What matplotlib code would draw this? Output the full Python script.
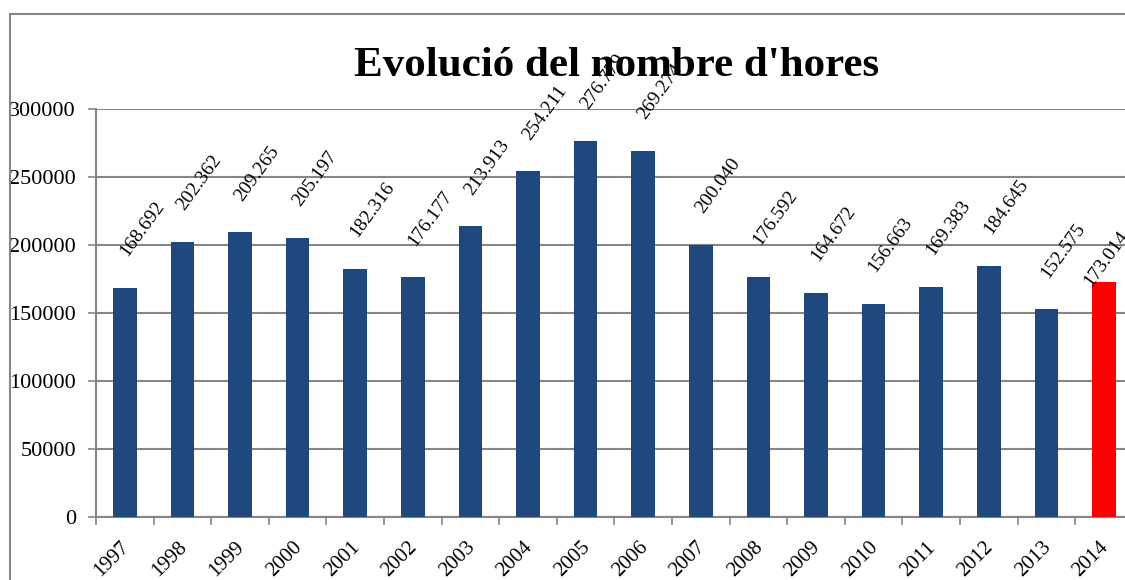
import matplotlib
matplotlib.use("Agg")
import matplotlib.pyplot as plt
from matplotlib.patches import Rectangle
from matplotlib.transforms import ScaledTranslation
import numpy as np

years = ["1997", "1998", "1999", "2000", "2001", "2002", "2003", "2004", "2005",
         "2006", "2007", "2008", "2009", "2010", "2011", "2012", "2013", "2014"]
hours = [168692, 202362, 209265, 205197, 182316, 176177, 213913, 254211, 276779,
         269274, 200040, 176592, 164672, 156663, 169383, 184645, 152575, 173014]
labels = ["168.692", "202.362", "209.265", "205.197", "182.316", "176.177", "213.913",
          "254.211", "276.779", "269.274", "200.040", "176.592", "164.672", "156.663",
          "169.383", "184.645", "152.575", "173.014"]
title = "Evolució del nombre d'hores"

plt.rcParams["font.family"] = ["Liberation Serif", "DejaVu Serif"]

W, H = 1125, 580
fig = plt.figure(figsize=(W / 100, H / 100), dpi=100)

# outer chart border (cropped on right and bottom)
fig.patches.append(Rectangle((10 / W, -0.1), 1.2, (H - 14) / H + 0.1,
                             transform=fig.transFigure, fill=False,
                             edgecolor="#868686", linewidth=1.5))

ax = fig.add_axes([96 / W, (H - 517) / H, 1036.8 / W, 408 / H])
x = np.arange(len(years))
colors = ["#1F497D"] * (len(years) - 1) + ["#FF0000"]
ax.bar(x, hours, width=0.41, color=colors, zorder=3)

ax.set_xlim(-0.5, len(years) - 0.5)
ax.set_ylim(0, 300000)
ax.set_yticks(np.arange(0, 300001, 50000))
ax.tick_params(axis="y", labelsize=16, length=6, width=1.2, color="#868686", pad=8.5)
ax.set_xticks(x)
ax.set_xticklabels(years, rotation=45, ha="right", rotation_mode="anchor", fontsize=15)
ax.tick_params(axis="x", length=0, pad=15)
ax.set_xticks(np.arange(-0.5, len(years)), minor=True)
ax.tick_params(axis="x", which="minor", length=6, width=1.2, color="#868686")
shift = ScaledTranslation(-5 / 100, 0, fig.dpi_scale_trans)
for t in ax.get_xticklabels():
    t.set_transform(t.get_transform() + shift)

ax.grid(axis="y", color="#868686", linewidth=1.5, zorder=0)
for side in ["top", "right"]:
    ax.spines[side].set_visible(False)
for side in ["left", "bottom"]:
    ax.spines[side].set_color("#868686")
    ax.spines[side].set_linewidth(1.5)

for i, (v, lab) in enumerate(zip(hours, labels)):
    # the last label sits lower, against the edge of the chart
    dx, dy = (1.5, 22) if i < len(years) - 1 else (-9, -4)
    ax.annotate(lab, (i, v), xytext=(dx, dy), textcoords="offset points",
                rotation=54, rotation_mode="anchor", ha="left", va="baseline",
                fontsize=14, annotation_clip=False, zorder=4)

fig.text(617 / W, (H - 76) / H, title, ha="center", va="baseline",
         fontsize=31, fontweight="bold", zorder=10)

fig.savefig("out.png", dpi=100)
